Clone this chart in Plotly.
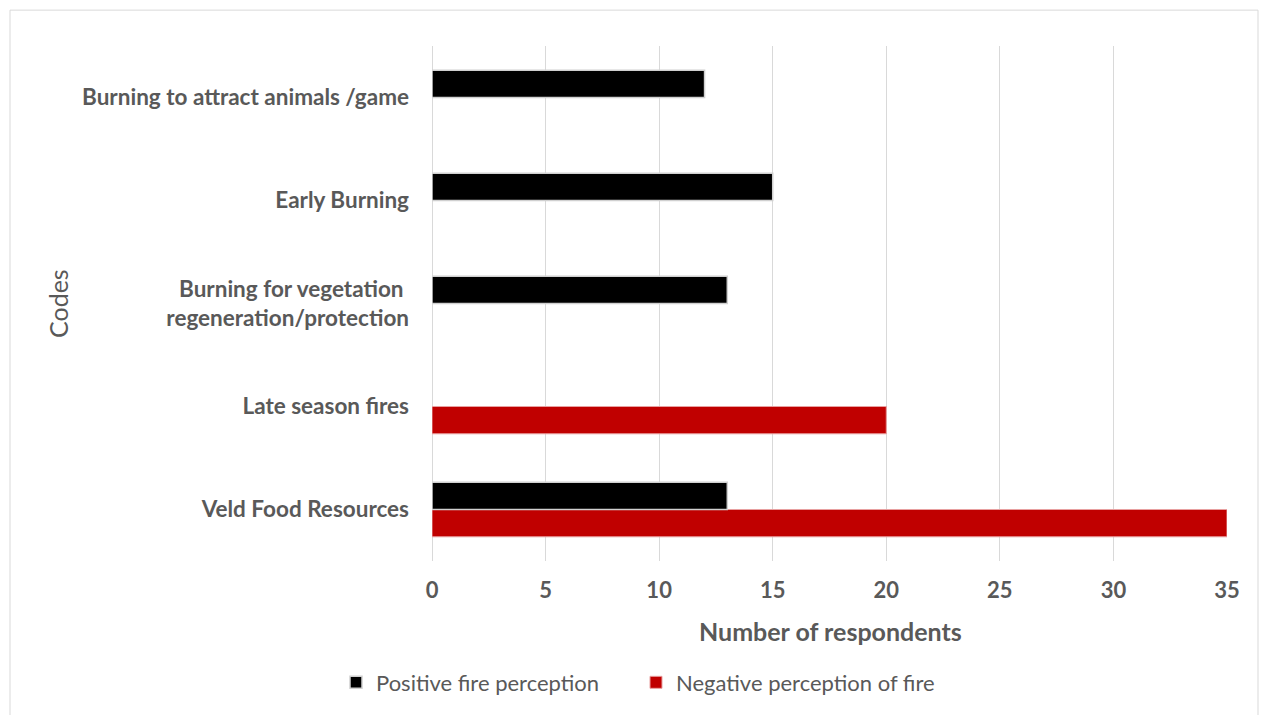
import plotly.graph_objects as go

categories = ["Veld Food Resources", "Late season fires",
              "Burning for vegetation <br>regeneration/protection",
              "Early Burning", "Burning to attract animals /game"]
positive = [13, None, 13, 15, 12]
negative = [35, 20, None, None, None]
x_ticks = [0, 5, 10, 15, 20, 25, 30, 35]

W, H = 1262, 715
L, R, T, B = 432, 35, 46, 152
pw, ph = W - L - R, H - T - B

def px(x):
    return (x - L) / pw

def py(y):
    return (H - B - y) / ph

grey = "#595959"
font = "Lato"

fig = go.Figure()
fig.add_trace(go.Bar(y=categories, x=negative, orientation="h", name="Negative perception of fire",
                     marker=dict(color="#c00000", line=dict(color="#e8a0a0", width=1)),
                     legendrank=2))
fig.add_trace(go.Bar(y=categories, x=positive, orientation="h", name="Positive fire perception",
                     marker=dict(color="#000000", line=dict(color="#d0d0d0", width=1.5)),
                     legendrank=1))

fig.update_layout(
    width=W, height=H,
    margin=dict(l=L, r=R, t=T, b=B),
    paper_bgcolor="white", plot_bgcolor="white",
    barmode="group", bargap=0.47, bargroupgap=0,
    font=dict(family=font, color=grey),
    showlegend=True,
    legend=dict(orientation="h", x=px(636), xanchor="center", y=py(685), yanchor="middle",
                font=dict(size=22, color=grey), traceorder="normal", itemwidth=30,
                entrywidth=255, entrywidthmode="pixels"),
    xaxis=dict(range=[0, 35], tickvals=x_ticks, showgrid=True, gridcolor="#d9d9d9", gridwidth=1,
               zeroline=True, zerolinecolor="#d9d9d9", zerolinewidth=1,
               tickfont=dict(size=22, color=grey, family=font, weight="bold"),
               ticks="", ticklabelstandoff=14, fixedrange=True),
    yaxis=dict(type="category", categoryorder="array", categoryarray=categories,
               tickfont=dict(size=22.5, color=grey, family=font, weight="bold"),
               ticks="", ticklabelstandoff=22, showgrid=False, fixedrange=True),
    annotations=[
        dict(text="Number of respondents", x=px(830), y=py(633), xref="paper", yref="paper",
             xanchor="center", yanchor="middle",
             showarrow=False, font=dict(size=25, color=grey, family=font, weight="bold")),
        dict(text="Codes", x=px(58), y=py(305), xref="paper", yref="paper", textangle=-90,
             xanchor="center", yanchor="middle",
             showarrow=False, font=dict(size=25, color=grey, family=font)),
    ],
    shapes=[dict(type="rect", xref="paper", yref="paper", x0=px(10), x1=px(1258),
                 y0=py(720), y1=py(10), line=dict(color="#d9d9d9", width=1), layer="below")],
)

fig.write_html("out.html")
